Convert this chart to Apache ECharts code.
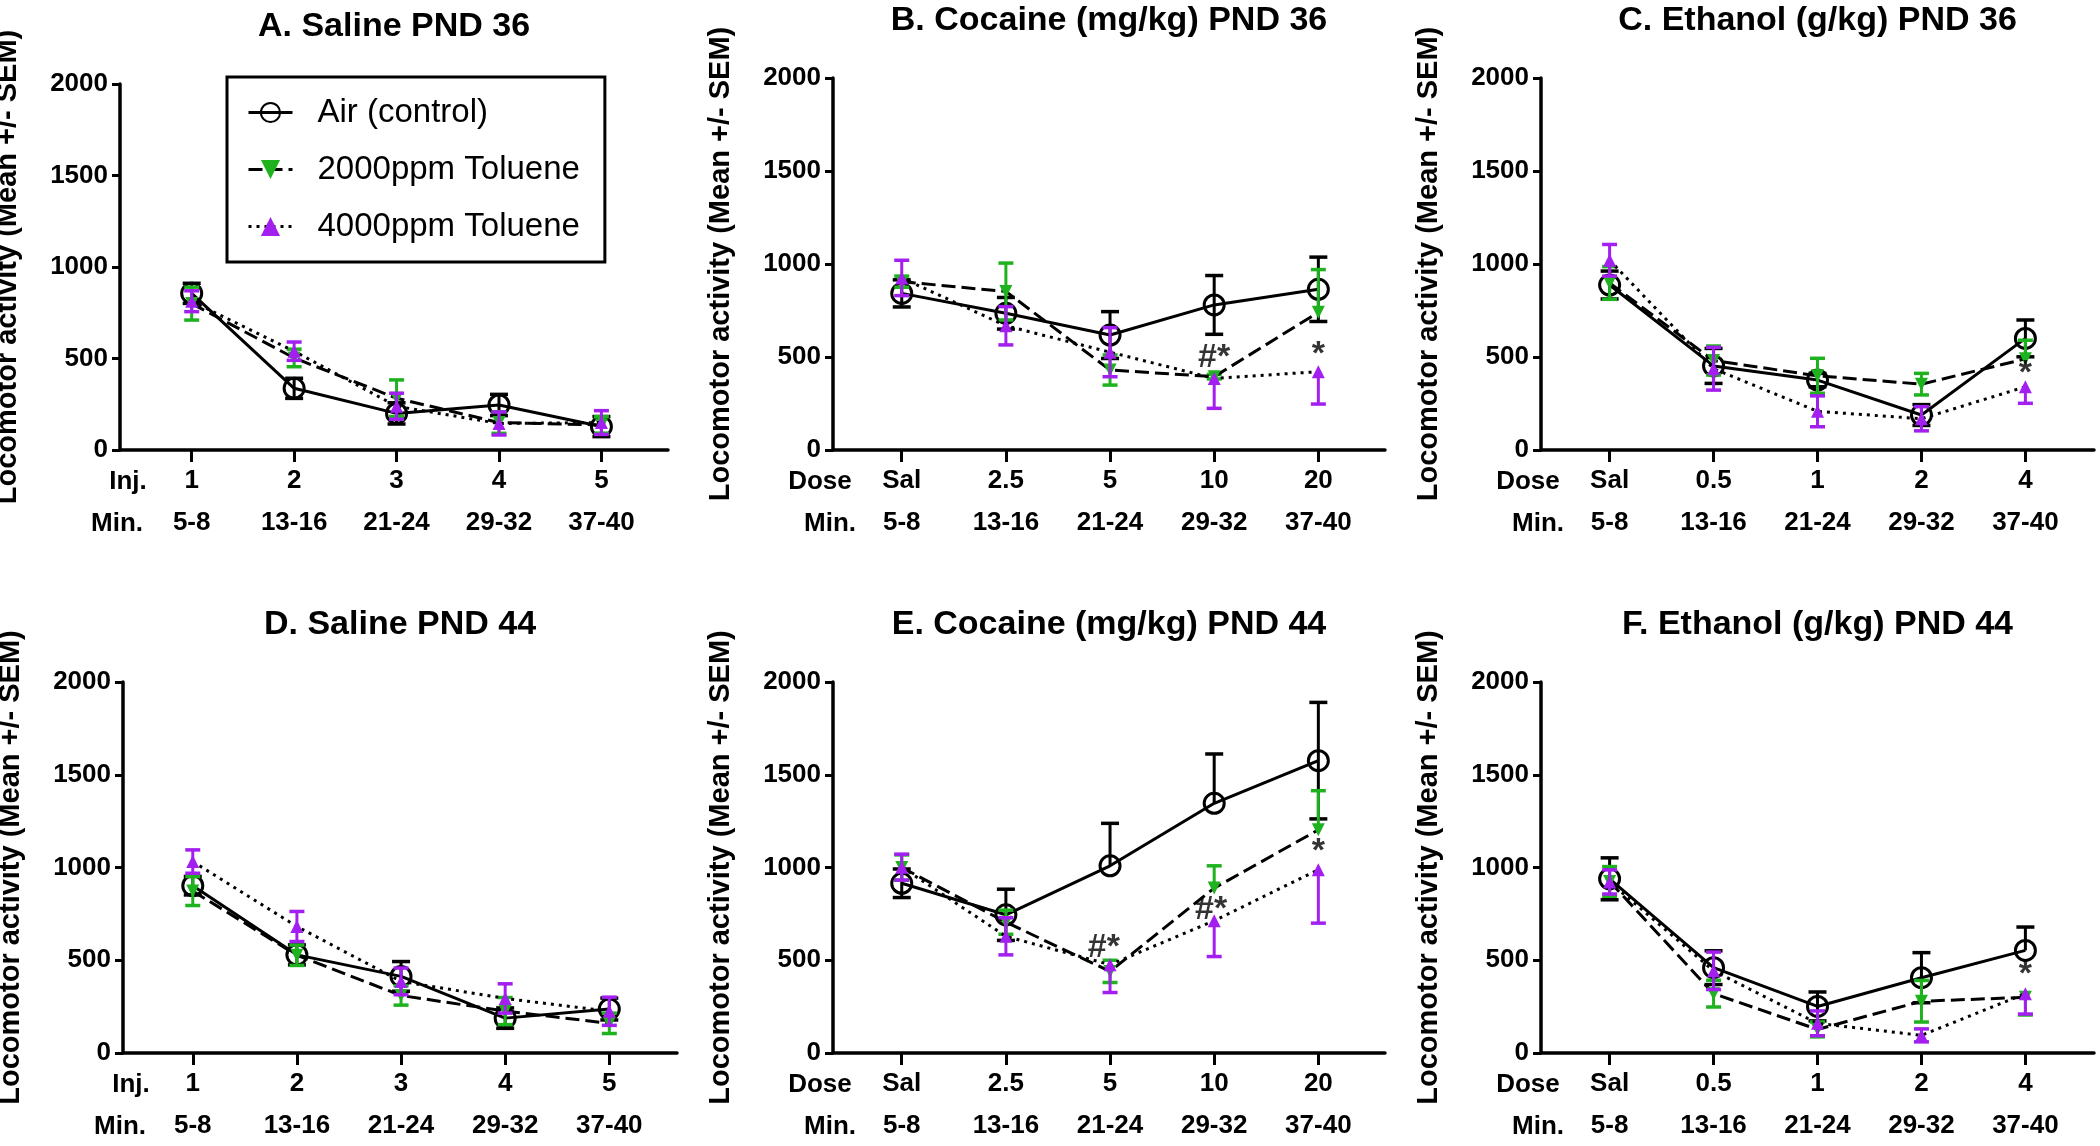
<!DOCTYPE html>
<html>
<head>
<meta charset="utf-8">
<script src="https://cdn.jsdelivr.net/npm/echarts@6/dist/echarts.min.js"></script>
<style>
html,body{margin:0;padding:0;background:#fff;}
#chart{width:2100px;height:1146px;}
</style>
</head>
<body>
<div id="chart"></div>
<script>
// ---------------- DATA ----------------
const panelTitles = ['A. Saline PND 36', 'B. Cocaine (mg/kg) PND 36', 'C. Ethanol (g/kg) PND 36',
                     'D. Saline PND 44', 'E. Cocaine (mg/kg) PND 44', 'F. Ethanol (g/kg) PND 44'];
const rowPrefix = ['Inj.', 'Dose', 'Dose', 'Inj.', 'Dose', 'Dose'];
const injLabels = ['1', '2', '3', '4', '5'];
const cocaineDoses = ['Sal', '2.5', '5', '10', '20'];
const ethanolDoses = ['Sal', '0.5', '1', '2', '4'];
const minuteLabels = ['5-8', '13-16', '21-24', '29-32', '37-40'];
const seriesNames = ['Air (control)', '2000ppm Toluene', '4000ppm Toluene'];
const yTicks = [0, 500, 1000, 1500, 2000];

// means per panel A..F
const airMean = [
  [856, 337, 200, 246, 128],
  [842, 735, 618, 780, 864],
  [887, 452, 376, 188, 600],
  [902, 529, 413, 188, 237],
  [915, 745, 1009, 1346, 1576],
  [939, 460, 251, 406, 553]
];
const airErrUp = [
  [55, 55, 58, 58, 55],
  [73, 85, 126, 158, 173],
  [75, 94, 36, 56, 99],
  [50, 54, 80, 55, 59],
  [77, 138, 229, 266, 314],
  [113, 91, 78, 135, 126]
];
const airErrDown = [
  [55, 55, 58, 58, 55],
  [73, 85, 126, 158, 173],
  [75, 94, 36, 56, 99],
  [50, 54, 80, 55, 59],
  [77, 138, 0, 0, 314],
  [113, 91, 78, 135, 0]
];
const tol2000Mean = [
  [800, 503, 283, 150, 137],
  [905, 852, 430, 394, 740],
  [898, 481, 399, 354, 490],
  [873, 527, 310, 226, 160],
  [1000, 705, 440, 889, 1203],
  [925, 320, 127, 279, 300]
];
const tol2000ErrUp = [
  [90, 48, 100, 59, 45],
  [30, 153, 81, 12, 230],
  [88, 78, 94, 58, 100],
  [78, 55, 52, 73, 55],
  [68, 65, 60, 120, 211],
  [80, 72, 40, 112, 0]
];
const tol2000ErrDown = [
  [90, 48, 100, 59, 45],
  [30, 153, 81, 12, 0],
  [88, 78, 94, 58, 0],
  [78, 55, 52, 73, 55],
  [68, 65, 60, 0, 0],
  [80, 72, 40, 112, 95]
];
const tol4000Mean = [
  [813, 540, 239, 145, 150],
  [925, 668, 526, 385, 421],
  [1020, 437, 208, 168, 340],
  [1032, 682, 386, 294, 225],
  [1002, 629, 476, 713, 988],
  [922, 443, 160, 95, 320]
];
const tol4000ErrUp = [
  [57, 50, 71, 63, 65],
  [95, 103, 132, 0, 0],
  [85, 115, 83, 65, 0],
  [63, 81, 72, 79, 76],
  [70, 100, 0, 0, 0],
  [65, 101, 67, 35, 0]
];
const tol4000ErrDown = [
  [57, 50, 71, 63, 65],
  [95, 103, 132, 161, 174],
  [85, 115, 83, 65, 89],
  [63, 81, 72, 79, 76],
  [70, 100, 150, 193, 288],
  [65, 101, 67, 35, 110]
];
// significance marks: [panel, x position (dose index), y value, text]
const sigMarks = [
  [1, 4, 495, '#*'], [1, 5, 511, '*'],
  [2, 5, 412, '*'],
  [4, 2.94, 567, '#*'], [4, 3.97, 772, '#*'], [4, 5, 1085, '*'],
  [5, 5, 421, '*']
];

// ---------------- LAYOUT / STYLE ----------------
const FONT = "'Liberation Sans', Arial, Helvetica, sans-serif";
const GREEN = '#1fb21f';
const PURPLE = '#a21ff0';
const gridBoxes = [
  {left: 120, top: 84, width: 548, height: 366, xMin: 0.30, xMax: 5.65},
  {left: 833, top: 78, width: 552, height: 372, xMin: 0.34, xMax: 5.64},
  {left: 1541, top: 78, width: 553, height: 372, xMin: 0.34, xMax: 5.66},
  {left: 123, top: 682, width: 554, height: 371, xMin: 0.33, xMax: 5.65},
  {left: 833, top: 682, width: 552, height: 371, xMin: 0.34, xMax: 5.64},
  {left: 1541, top: 682, width: 553, height: 371, xMin: 0.34, xMax: 5.66}
];
function doseLabelsFor(p) {
  if (p === 0 || p === 3) return injLabels;
  if (p === 1 || p === 4) return cocaineDoses;
  return ethanolDoses;
}

function errRender(color, hw) {
  return function (params, api) {
    const x = api.value(0), m = api.value(1), up = api.value(2), dn = api.value(3);
    const top = api.coord([x, m + up]);
    const bot = api.coord([x, m - dn]);
    const children = [{
      type: 'line',
      shape: {x1: top[0], y1: top[1], x2: bot[0], y2: bot[1]},
      style: {stroke: color, lineWidth: 3}
    }];
    if (up > 0) children.push({type: 'line', shape: {x1: top[0] - hw, y1: top[1], x2: top[0] + hw, y2: top[1]}, style: {stroke: color, lineWidth: 3.5}});
    if (dn > 0) children.push({type: 'line', shape: {x1: bot[0] - hw, y1: bot[1], x2: bot[0] + hw, y2: bot[1]}, style: {stroke: color, lineWidth: 3.5}});
    return {type: 'group', children: children};
  };
}

const grids = [], xAxes = [], yAxes = [], series = [], graphics = [];
gridBoxes.forEach(function (g, p) {
  grids.push({left: g.left, top: g.top, width: g.width, height: g.height, containLabel: false, outerBoundsMode: 'none'});
  const doses = doseLabelsFor(p);
  xAxes.push({
    type: 'value', gridIndex: p, min: g.xMin, max: g.xMax,
    splitLine: {show: false},
    axisLine: {show: true, onZero: false, lineStyle: {color: '#000', width: 3.5}},
    axisTick: {show: true, length: 12, lineStyle: {color: '#000', width: 3}, customValues: [1, 2, 3, 4, 5]},
    axisLabel: {
      show: true, margin: 10, customValues: [1, 2, 3, 4, 5],
      formatter: function (v) { const i = Math.round(v) - 1; return '{a|' + doses[i] + '}\n{b|' + minuteLabels[i] + '}'; },
      rich: {
        a: {fontFamily: FONT, fontWeight: 'bold', fontSize: 26, color: '#000', lineHeight: 42},
        b: {fontFamily: FONT, fontWeight: 'bold', fontSize: 26, color: '#000', lineHeight: 42}
      }
    }
  });
  yAxes.push({
    type: 'value', gridIndex: p, min: 0, max: 2000, interval: 500,
    splitLine: {show: false},
    name: 'Locomotor activity (Mean +/- SEM)', nameLocation: 'middle', nameGap: 98,
    nameTextStyle: {fontFamily: FONT, fontWeight: 'bold', fontSize: 29, color: '#000'},
    axisLine: {show: true, lineStyle: {color: '#000', width: 3.5}},
    axisTick: {show: true, length: 8, lineStyle: {color: '#000', width: 3}},
    axisLabel: {margin: 12, fontFamily: FONT, fontWeight: 'bold', fontSize: 26, color: '#000',
      customValues: yTicks, formatter: function (v) { return String(v); }}
  });

  const sets = [
    {name: seriesNames[0], mean: airMean[p], up: airErrUp[p], dn: airErrDown[p], color: '#000', z: 2, hw: 9,
      symbol: 'circle', size: 20, rotate: 0, itemStyle: {color: 'rgba(0,0,0,0)', borderColor: '#000', borderWidth: 3},
      lineType: 'solid'},
    {name: seriesNames[1], mean: tol2000Mean[p], up: tol2000ErrUp[p], dn: tol2000ErrDown[p], color: GREEN, z: 3, hw: 7.5,
      symbol: 'triangle', size: 13, rotate: 180, itemStyle: {color: GREEN, borderWidth: 0},
      lineType: [14, 6]},
    {name: seriesNames[2], mean: tol4000Mean[p], up: tol4000ErrUp[p], dn: tol4000ErrDown[p], color: PURPLE, z: 4, hw: 7.5,
      symbol: 'triangle', size: 13, rotate: 0, itemStyle: {color: PURPLE, borderWidth: 0},
      lineType: [3, 5]}
  ];
  sets.forEach(function (s) {
    series.push({
      type: 'custom', name: s.name + ' SEM', xAxisIndex: p, yAxisIndex: p, z: s.z,
      renderItem: errRender(s.color, s.hw), silent: true,
      encode: {x: 0, y: 1},
      data: s.mean.map(function (v, i) { return [i + 1, v, s.up[i], s.dn[i]]; })
    });
    series.push({
      type: 'line', name: s.name, xAxisIndex: p, yAxisIndex: p, z: s.z,
      symbol: s.symbol, symbolSize: s.size, symbolRotate: s.rotate,
      itemStyle: s.itemStyle,
      lineStyle: {color: '#000', width: 3, type: s.lineType},
      emphasis: {disabled: true}, animation: false,
      data: s.mean.map(function (v, i) { return [i + 1, v]; })
    });
  });

  // panel titles
  graphics.push({
    type: 'text',
    x: g.left + g.width / 2, y: g.top - 57,
    style: {text: panelTitles[p], fontFamily: FONT, fontWeight: 'bold', fontSize: 34, fill: '#000',
      textAlign: 'center', textVerticalAlign: 'middle'}
  });
  // row prefixes under axis
  const prefixOffset = rowPrefix[p] === 'Inj.' ? 8 : -13;
  graphics.push({
    type: 'text', x: g.left + prefixOffset, y: g.top + g.height + 32,
    style: {text: rowPrefix[p], fontFamily: FONT, fontWeight: 'bold', fontSize: 26, fill: '#000',
      textAlign: 'center', textVerticalAlign: 'middle'}
  });
  graphics.push({
    type: 'text', x: g.left - 3, y: g.top + g.height + 74,
    style: {text: 'Min.', fontFamily: FONT, fontWeight: 'bold', fontSize: 26, fill: '#000',
      textAlign: 'center', textVerticalAlign: 'middle'}
  });
});

// significance marks via scatter series (placed by axis scales)
gridBoxes.forEach(function (g, p) {
  const marks = sigMarks.filter(function (m) { return m[0] === p; });
  if (!marks.length) return;
  series.push({
    type: 'scatter', name: 'sig', xAxisIndex: p, yAxisIndex: p, z: 6, silent: true,
    symbolSize: 1, itemStyle: {color: 'rgba(0,0,0,0)'},
    label: {show: true, position: 'inside', formatter: function (d) { return d.data[2]; },
      fontFamily: FONT, fontWeight: 'bold', fontSize: 34, color: '#000'},
    data: marks.map(function (m) { return [m[1], m[2], m[3]]; })
  });
});

const chart = echarts.init(document.getElementById('chart'), null, {renderer: 'canvas'});
chart.setOption({
  backgroundColor: '#fff',
  animation: false,
  grid: grids,
  xAxis: xAxes,
  yAxis: yAxes,
  legend: {
    show: true, data: seriesNames, orient: 'vertical',
    left: 227, top: 77,
    padding: [17, 25, 17, 20],
    itemWidth: 44, itemHeight: 24, itemGap: 20,
    borderColor: '#000', borderWidth: 3, backgroundColor: '#fff',
    selectedMode: false,
    lineStyle: {width: 3},
    textStyle: {fontFamily: FONT, fontSize: 33, color: '#000', lineHeight: 37, padding: [0, 0, 0, 20]}
  },
  graphic: graphics,
  series: series
});
</script>
</body>
</html>
